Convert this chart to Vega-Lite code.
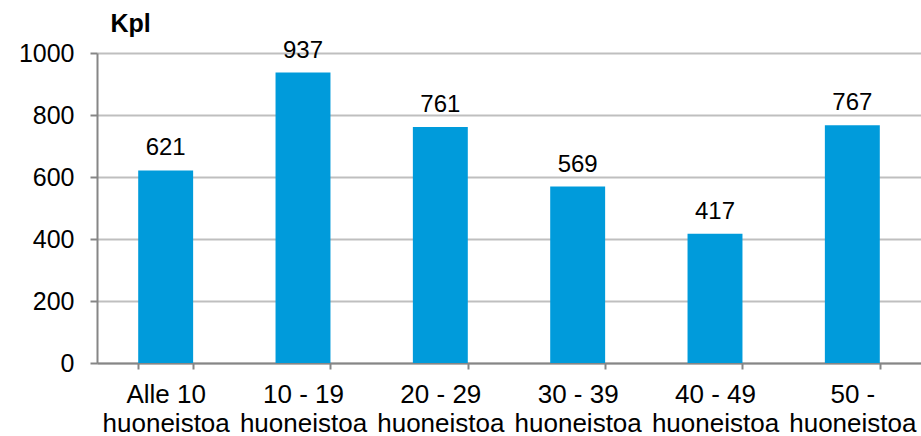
{
  "$schema": "https://vega.github.io/schema/vega-lite/v6.json",
  "width": 824,
  "height": 310,
  "autosize": {"type": "none"},
  "padding": {"left": 97, "top": 53, "right": 0, "bottom": 73},
  "background": "white",
  "config": {
    "view": {"stroke": null},
    "font": "Liberation Sans"
  },
  "data": {
    "values": [
      {"category": "Alle 10|huoneistoa", "value": 621},
      {"category": "10 - 19|huoneistoa", "value": 937},
      {"category": "20 - 29|huoneistoa", "value": 761},
      {"category": "30 - 39|huoneistoa", "value": 569},
      {"category": "40 - 49|huoneistoa", "value": 417},
      {"category": "50 -|huoneistoa", "value": 767}
    ]
  },
  "encoding": {
    "x": {
      "field": "category",
      "type": "nominal",
      "sort": null,
      "scale": {"paddingInner": 0.6, "paddingOuter": 0.3},
      "axis": {
        "title": null,
        "labelAngle": 0,
        "labelExpr": "split(datum.label, '|')",
        "labelFontSize": 26,
        "labelLineHeight": 29,
        "labelColor": "#000000",
        "labelPadding": 12,
        "labelBaseline": "top",
        "labelOverlap": false,
        "tickBand": "extent",
        "tickSize": 6,
        "tickColor": "#868686",
        "tickWidth": 2,
        "domainColor": "#868686",
        "domainWidth": 2,
        "grid": false
      }
    },
    "y": {
      "field": "value",
      "type": "quantitative",
      "scale": {"domain": [0, 1000], "nice": false},
      "axis": {
        "values": [0, 200, 400, 600, 800, 1000],
        "format": "d",
        "title": "Kpl",
        "titleAngle": 0,
        "titleAlign": "left",
        "titleBaseline": "alphabetic",
        "titleX": 13,
        "titleY": -22,
        "titleFontSize": 25,
        "titleFontWeight": "bold",
        "titleColor": "#000000",
        "labelFontSize": 25,
        "labelColor": "#000000",
        "labelPadding": 16,
        "tickSize": 7,
        "tickColor": "#868686",
        "tickWidth": 2,
        "domainColor": "#868686",
        "domainWidth": 2,
        "gridColor": "#BFBFBF",
        "gridWidth": 2
      }
    }
  },
  "layer": [
    {
      "mark": {"type": "bar", "color": "#009BDB"}
    },
    {
      "mark": {"type": "text", "baseline": "alphabetic", "dy": -15, "fontSize": 24, "color": "#000000"},
      "encoding": {"text": {"field": "value", "type": "quantitative"}}
    }
  ]
}
